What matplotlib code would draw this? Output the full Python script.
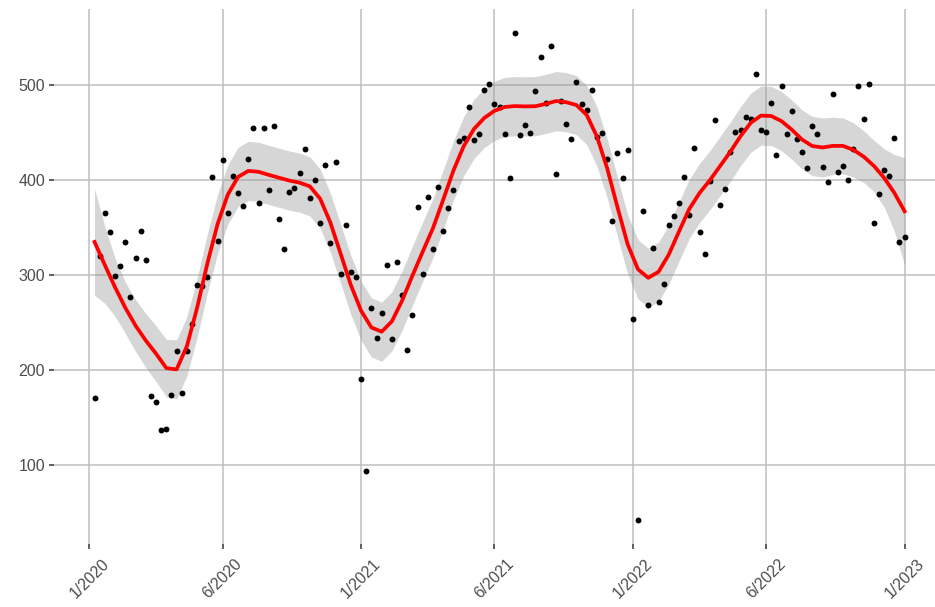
import matplotlib
matplotlib.use("Agg")
import matplotlib.pyplot as plt
import numpy as np

# weekly observations, week 1 .. 159
weeks = np.arange(1, 160)
values = [
    170, 320, 365, 345, 299, 310, 335, 277, 318, 346, 316, 172, 166, 137, 138, 174,
    220, 176, 220, 248, 289, 288, 298, 403, 336, 421, 365, 404, 387, 373, 422, 455,
    376, 455, 390, 457, 359, 327, 388, 392, 408, 433, 381, 400, 355, 416, 334, 419,
    301, 353, 303, 298, 190, 93, 265, 234, 260, 311, 233, 314, 279, 221, 258, 372,
    301, 382, 328, 393, 347, 371, 390, 441, 445, 477, 442, 449, 495, 502, 480, 477,
    449, 402, 555, 448, 458, 450, 494, 530, 482, 542, 407, 484, 459, 444, 504, 480,
    474, 495, 446, 450, 422, 357, 429, 402, 432, 254, 42, 368, 268, 329, 272, 291,
    353, 362, 376, 403, 363, 434, 345, 322, 399, 464, 374, 391, 430, 451, 453, 467,
    465, 512, 453, 451, 482, 427, 499, 449, 473, 443, 430, 413, 457, 449, 414, 398,
    491, 409, 415, 400, 433, 499, 465, 501, 355, 385, 411, 404, 445, 335, 340,
]
tick_weeks = [0, 26, 53, 79, 106, 132, 159]
tick_labels = ["1/2020", "6/2020", "1/2021", "6/2021", "1/2022", "6/2022", "1/2023"]

span = 0.2


def loess_operator(x, x_eval, span):
    # local quadratic fit with tricube weights, returns the linear smoother rows
    n = len(x)
    q = int(np.floor(n * span))
    rows = []
    for x0 in x_eval:
        d = np.abs(x - x0)
        h = np.sort(d)[q - 1] * 1.0001
        w = np.clip(1 - (d / h) ** 3, 0, None) ** 3
        X = np.column_stack([np.ones(n), x - x0, (x - x0) ** 2])
        XtW = X.T * w
        rows.append(np.linalg.solve(XtW @ X, XtW)[0])
    return np.array(rows)


x = weeks.astype(float)
y = np.array(values, dtype=float)

L = loess_operator(x, x, span)
resid = y - L @ y
IL = np.eye(len(x)) - L
M = IL.T @ IL
delta1 = np.trace(M)
sigma = np.sqrt(np.sum(resid ** 2) / delta1)

xs = np.linspace(x.min(), x.max(), 80)
Ls = loess_operator(x, xs, span)
fit = Ls @ y
se = sigma * np.sqrt(np.sum(Ls ** 2, axis=1))
tq = 1.976

plt.rcParams["font.family"] = ["Liberation Sans", "DejaVu Sans"]

fig = plt.figure(figsize=(9.35, 6.07), dpi=100)
ax = fig.add_axes([0.0578, 0.1038, 0.953, 0.8814])

ax.fill_between(xs, fit - tq * se, fit + tq * se, color="#999999", alpha=0.4,
                linewidth=0, zorder=2)
ax.scatter(weeks, values, s=18, color="black", linewidths=0, zorder=3)
ax.plot(xs, fit, color="red", linewidth=2.7, zorder=4)

ax.set_xticks(tick_weeks)
ax.set_xticklabels(tick_labels, rotation=45, ha="center", va="top")
ax.set_yticks([100, 200, 300, 400, 500])
ax.margins(x=0.05, y=0.05)

ax.grid(True, color="#BEBEBE", linewidth=1.1, zorder=0)
ax.set_axisbelow(True)
for s in ax.spines.values():
    s.set_visible(False)
ax.tick_params(axis="both", length=3.5, width=1.1, color="#333333",
               labelsize=11.5, labelcolor="#4D4D4D", pad=3)
ax.tick_params(axis="x", pad=5)

fig.savefig("out.png", dpi=100)
